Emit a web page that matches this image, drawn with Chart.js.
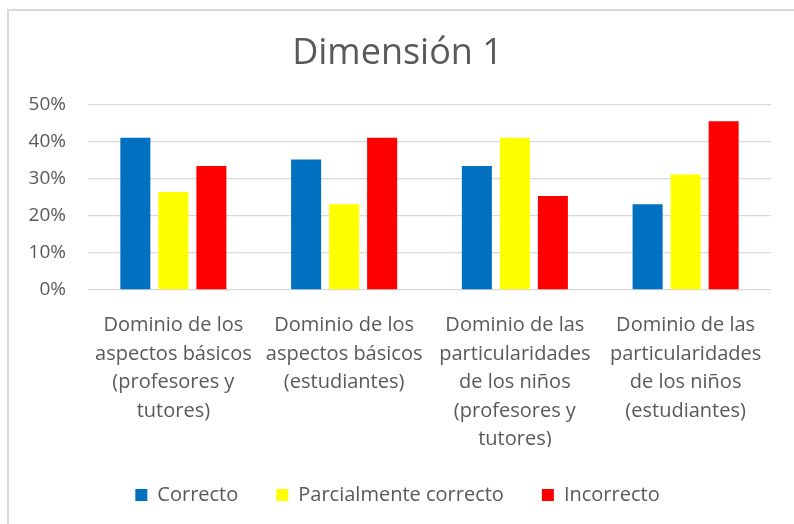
<!DOCTYPE html>
<html>
<head>
<meta charset="utf-8">
<script src="https://cdn.jsdelivr.net/npm/chart.js@4.4.1/dist/chart.umd.min.js"></script>
<style>
  html, body { margin: 0; padding: 0; background: #ffffff; }
  #wrap { position: relative; width: 794px; height: 524px; overflow: hidden; }
  #frame { position: absolute; left: 7px; top: 9px; width: 800px; height: 530px;
           border-left: 2px solid #d9d9d9; border-top: 2px solid #d9d9d9; }
  canvas { position: absolute; left: 0; top: 0; }
</style>
</head>
<body>
<div id="wrap">
  <div id="frame"></div>
  <canvas id="c" width="794" height="524"></canvas>
</div>
<script>
const chartTitle = "Dimensión 1";
const categories = [
  ["Dominio de los", "aspectos básicos", "(profesores y", "tutores)"],
  ["Dominio de los", "aspectos básicos", "(estudiantes)"],
  ["Dominio de las", "particularidades", "de los niños", "(profesores y", "tutores)"],
  ["Dominio de las", "particularidades", "de los niños", "(estudiantes)"]
];
const seriesNames = ["Correcto", "Parcialmente correcto", "Incorrecto"];
const correcto = [41.0, 35.1, 33.4, 23.1];
const parcialmente = [26.4, 23.1, 41.0, 31.1];
const incorrecto = [33.4, 41.0, 25.3, 45.4];
const yTicks = [0, 10, 20, 30, 40, 50];

const txt = "#595959";
const fam = "'Open Sans', sans-serif";

new Chart(document.getElementById("c"), {
  type: "bar",
  data: {
    labels: categories,
    datasets: [
      { label: seriesNames[0], data: correcto, backgroundColor: "#0070C0" },
      { label: seriesNames[1], data: parcialmente, backgroundColor: "#FFFF00" },
      { label: seriesNames[2], data: incorrecto, backgroundColor: "#FF0000" }
    ]
  },
  options: {
    responsive: false,
    animation: false,
    devicePixelRatio: 1,
    layout: { padding: { left: 24, right: 23, top: 0, bottom: 9 } },
    datasets: { bar: { categoryPercentage: 0.668, barPercentage: 0.79 } },
    plugins: {
      title: {
        display: true,
        text: chartTitle,
        color: txt,
        font: { family: fam, size: 36, weight: "normal" },
        padding: { top: 32, bottom: 29 }
      },
      legend: {
        position: "bottom",
        labels: {
          color: txt,
          font: { family: fam, size: 20 },
          boxWidth: 12,
          boxHeight: 12,
          padding: 38
        }
      },
      tooltip: { enabled: false }
    },
    scales: {
      x: {
        grid: { display: false, drawTicks: false },
        border: { display: false },
        ticks: {
          color: txt,
          font: { family: fam, size: 20, lineHeight: 1.43 },
          padding: 21,
          maxRotation: 0,
          autoSkip: false
        },
        afterFit: s => { s.height = 157; }
      },
      y: {
        min: 0,
        max: 50,
        afterBuildTicks: s => { s.ticks = yTicks.map(v => ({ value: v })); },
        grid: { color: "#d9d9d9", lineWidth: 1.3, drawTicks: false },
        border: { display: false },
        ticks: {
          color: txt,
          font: { family: fam, size: 19 },
          padding: 22,
          callback: v => v + "%"
        },
        afterFit: s => { s.width = 64; }
      }
    }
  }
});
</script>
</body>
</html>
